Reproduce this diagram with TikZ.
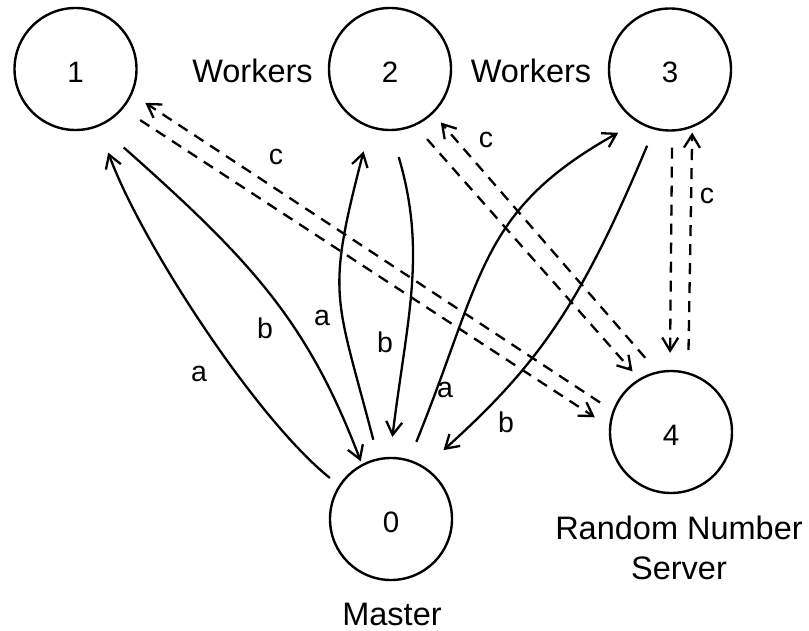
\documentclass[tikz,border=0pt]{standalone}
\usepackage{fontspec}
\setmainfont{Liberation Sans}
\usetikzlibrary{arrows.meta}
\begin{document}
\begin{tikzpicture}[x=1pt,y=-1pt,
  proc/.style={circle, draw, line width=2.4pt, minimum size=122pt, inner sep=0pt,
    font=\fontsize{29.5}{29.5}\selectfont, text height=27pt, text depth=0pt},
  wordlbl/.style={font=\fontsize{32.5}{40}\selectfont, inner sep=0pt},
  edgelbl/.style={font=\fontsize{28.5}{28.5}\selectfont, inner sep=0pt},
  msg/.style={line width=2.3pt, -{Straight Barb[length=13pt,width=16pt]}},
  rnd/.style={msg, dash pattern=on 11pt off 8pt},
]
\fill[white] (0,0) rectangle (809,631);
\useasboundingbox (0,0) rectangle (809,631);

% processes
\node[proc] (n1) at (75.5,69) {1};
\node[proc] (n2) at (390,69) {2};
\node[proc] (n3) at (670,69.5) {3};
\node[proc] (n4) at (671,432) {4};
\node[proc] (n0) at (391,519) {0};

% captions
\node[wordlbl] (wk1) at (252.5,71) {Workers};
\node[wordlbl] (wk2) at (531,71) {Workers};
\node[wordlbl] (master) at (392,614.5) {Master};
\node[wordlbl, align=center, anchor=north] (rns) at (679,515.4) {Random Number\\Server};

% master <-> workers (solid)
\draw[msg, shorten <=11.5pt, shorten >=27.6pt] (n0.147) .. controls (255,418) and (140,240) .. (n1.-68.2);
\draw[msg, shorten <=32pt, shorten >=3pt] (n1.-67.7) .. controls (250.5,260) and (307.5,321) .. (n0.118.9);
\draw[msg, shorten <=19pt, shorten >=24.3pt] (n0.102.3) .. controls (335.5,294.5) and (325.5,297.5) .. (n2.-109.7);
\draw[msg, shorten <=27pt, shorten >=20pt] (n2.-89.8) .. controls (427,253) and (407,318) .. (n0.91.4);
\draw[msg, shorten <=19pt, shorten >=21.6pt] (n0.73.3) .. controls (483.9,275.3) and (478.8,210.6) .. (n3.-122.4);
\draw[msg, shorten <=17.5pt, shorten >=25pt] (n3.-105.2) .. controls (581.5,302) and (540,363.4) .. (n0.57.5);

% workers <-> random number server (dashed)
\draw[rnd, shorten <=15pt, shorten >=15.5pt] (n4.160.5) -- (n1.-24.3);
\draw[rnd, shorten <=20.3pt, shorten >=17pt] (n1.-40) -- (n4.175.6);
\draw[rnd, shorten <=18pt, shorten >=11.5pt] (n4.103.2) -- (n2.-46.9);
\draw[rnd, shorten <=17.8pt, shorten >=9.7pt] (n2.-66) -- (n4.121.8);
\draw[rnd, shorten <=16pt, shorten >=17pt] (n3.-88) -- (n4.91.1);
\draw[rnd, shorten <=22.2pt, shorten >=5pt] (n4.74.5) -- (n3.-69.1);

% message labels
\node[edgelbl] (la1) at (199,374) {a};
\node[edgelbl] (lb1) at (265,328) {b};
\node[edgelbl] (la2) at (322,317.5) {a};
\node[edgelbl] (lb2) at (385,342) {b};
\node[edgelbl] (la3) at (445,389.5) {a};
\node[edgelbl] (lb3) at (506,422) {b};
\node[edgelbl] (lc1) at (276,157) {c};
\node[edgelbl] (lc2) at (486,139.5) {c};
\node[edgelbl] (lc3) at (707,195.5) {c};
\end{tikzpicture}
\end{document}
